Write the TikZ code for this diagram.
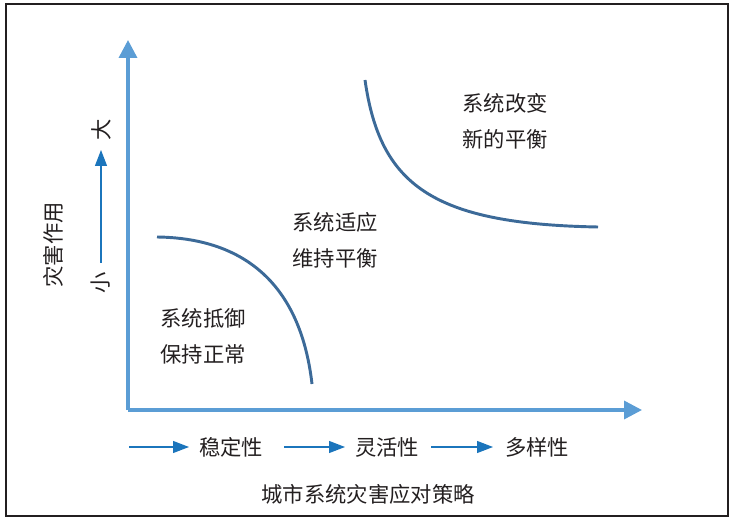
\documentclass[tikz,border=0pt]{standalone}
\usepackage{fontspec}
\usepackage{tikz}
\setmainfont{Noto Sans CJK SC}
\usetikzlibrary{arrows.meta}
\usetikzlibrary{positioning}
\definecolor{maxis}{RGB}{91, 157, 213}
\definecolor{mcurve}{RGB}{60, 106, 152}
\definecolor{mblue}{RGB}{27, 117, 188}
\definecolor{mtext}{RGB}{35, 31, 32}
\tikzset{lbl/.style = {text = mtext, font = \fontsize{16}{27}\selectfont, inner sep = 0, align = left}}
\tikzset{axis/.style = {maxis, line width = 2.6, -{Triangle[length = 13.5, width = 13.5]}}}
\tikzset{thin arrow/.style = {mblue, line width = 0.9, -{Triangle[length = 12, width = 9]}}}
\tikzset{curve/.style = {mcurve, line width = 2.2}}

\begin{document}
\begin{tikzpicture}[x=0.75pt, y=-0.75pt]
          \useasboundingbox (0, 0) rectangle (737, 523);
          \draw [mtext, line width = 1.1] (6, 4) rectangle (728, 516);

          \coordinate (O) at (128, 410);
          \coordinate (ytip) at (128, 40);
          \coordinate (xtip) at (642, 410);
          \draw [axis] (O) -- (ytip);
          \draw [axis] (O) -- (xtip);

          \node [lbl, rotate = 90] (effect) at (53, 245) {灾害作用};
          \node [lbl, rotate = 90] (small) at (101, 283) {小};
          \node [lbl, rotate = 90] (big) at (101, 130) {大};
          \coordinate (up0) at (101, 263);
          \coordinate (up1) at (101, 150);
          \draw [thin arrow] (up0) -- (up1);

          \draw [curve] (157, 237) .. controls (240, 238) and (300, 280) .. (312, 384);
          \draw [curve] (365, 80) .. controls (380, 185) and (432, 224) .. (598, 227);

          \node [lbl] (resist) at (203, 336) {系统抵御\\保持正常};
          \node [lbl] (adapt) at (335, 240) {系统适应\\维持平衡};
          \node [lbl] (change) at (505, 121) {系统改变\\新的平衡};

          \node [lbl] (stable) at (231, 447) {稳定性};
          \node [lbl] (flexible) at (387, 447) {灵活性};
          \node [lbl] (diverse) at (537, 447) {多样性};
          \coordinate (a0) at (129, 447);
          \coordinate (a1) at (189, 447);
          \coordinate (b0) at (284, 447);
          \coordinate (b1) at (345, 447);
          \coordinate (c0) at (431, 447);
          \coordinate (c1) at (493, 447);
          \draw [thin arrow] (a0) -- (a1);
          \draw [thin arrow] (b0) -- (b1);
          \draw [thin arrow] (c0) -- (c1);

          \node [lbl] (title) at (368, 494) {城市系统灾害应对策略};
        \end{tikzpicture}
\end{document}
